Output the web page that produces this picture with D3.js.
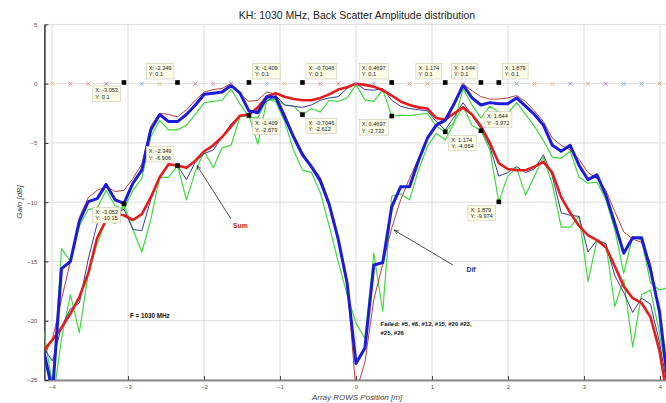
<!DOCTYPE html>
<html>
<head>
<meta charset="utf-8">
<script src="https://cdn.jsdelivr.net/npm/d3@7"></script>
<style>
  body { margin: 0; background: #fff; }
  svg { display: block; font-family: "Liberation Sans", Arial, sans-serif; }
</style>
</head>
<body>
<div id="chart"></div>
<script>
// sample grid: half the element pitch, k = -35 .. 35
var halfPitch = 0.117423;
var samplePos = d3.range(-35, 36).map(function (k) { return k * halfPitch });

// Sum pattern
var sumThick = [-22.5, -21.6, -20.6, -19.4, -18.0, -16.0, -13.0, -11.5, -11.0, -11.1,
  -11.5, -11.0, -9.6, -7.9, -6.8, -6.9, -7.1, -6.5, -5.7, -5.2,
  -4.5, -3.6, -2.7, -2.6, -2.0, -1.1, -0.8, -1.1, -1.3, -1.4,
  -1.4, -1.2, -0.9, -0.5, -0.3, 0.0, -0.1, -0.25, -0.55, -1.0,
  -1.5, -1.8, -2.0, -2.1, -2.9, -3.05, -2.5, -2.0, -2.6, -3.6,
  -5.0, -6.7, -7.2, -7.3, -7.3, -7.0, -6.6, -7.5, -9.6, -10.9,
  -12.0, -12.8, -13.2, -13.8, -15.4, -17.1, -18.1, -18.5, -19.7, -22.5,
  -27.0];
var sumThin = [-22.3, -23.4, -20.5, -19.0, -18.5, -14.8, -11.8, -11.0, -10.9, -10.6,
  -12.3, -12.4, -9.8, -7.9, -6.8, -6.9, -8.1, -6.6, -5.9, -5.6,
  -4.5, -3.4, -2.7, -2.6, -2.2, -1.5, -1.0, -1.8, -1.9, -2.0,
  -1.8, -1.4, -1.2, -1.1, -0.4, 0.0, -0.5, -0.55, -0.4, -1.4,
  -1.9, -2.1, -2.2, -2.3, -3.2, -3.9, -2.8, -1.6, -2.7, -3.8,
  -5.3, -7.8, -7.5, -7.0, -7.5, -7.2, -6.0, -7.8, -10.9, -11.1,
  -11.2, -14.2, -13.2, -13.5, -16.2, -17.6, -19.3, -18.1, -18.6, -21.8,
  -26.0];
var sumGreen = [-22.0, -27.0, -21.5, -17.8, -21.0, -16.0, -13.5, -11.5, -11.8, -10.15,
  -12.3, -14.2, -11.5, -7.9, -7.9, -6.906, -9.8, -7.4, -5.7, -7.1,
  -5.4, -5.2, -2.8, -2.679, -5.1, -1.4, -1.3, -1.8, -1.9, -2.612,
  -2.1, -2.4, -1.4, -1.5, -1.2, -0.1, -1.37, -1.5, -0.5, -2.733,
  -2.65, -2.7, -2.6, -2.5, -3.6, -4.064, -3.2, -1.9, -3.5, -3.972,
  -5.6, -9.974, -7.8, -7.1, -9.4, -7.8, -6.2, -8.5, -12.1, -12.1,
  -11.2, -16.7, -13.2, -13.5, -18.8, -16.5, -22.2, -17.8, -17.4, -21.0,
  -25.5];

// Dif pattern
var difThick = [-22.5, -26.0, -15.6, -15.0, -11.6, -9.95, -9.7, -8.5, -9.8, -10.1,
  -8.4, -7.3, -3.9, -2.6, -3.2, -3.2, -2.6, -1.8, -0.9, -0.8,
  -0.7, -0.15, -0.8, -2.3, -2.45, -1.1, -1.15, -2.8, -4.5, -6.0,
  -7.0, -8.2, -10.2, -13.1, -16.8, -23.6, -22.3, -15.3, -15.1, -10.4,
  -8.7, -8.7, -6.5, -4.6, -3.5, -3.1, -1.7, -0.1, -1.2, -1.8,
  -1.6, -1.7, -1.7, -1.2, -1.9, -2.6, -3.5, -5.2, -5.7, -5.2,
  -6.9, -8.1, -7.7, -9.4, -11.8, -14.3, -13.0, -13.0, -15.7, -19.2,
  -25.5];
var difThin = [-23.0, -21.5, -18.2, -15.0, -11.3, -9.6, -9.0, -8.7, -9.1, -9.0,
  -8.0, -6.8, -3.6, -2.5, -2.6, -2.8, -2.2, -1.4, -0.7, -0.5,
  -0.4, 0.0, -0.9, -1.5, -1.4, -0.7, -0.9, -2.5, -4.3, -5.8,
  -6.9, -7.9, -10.0, -13.0, -16.6, -26.0, -23.5, -18.2, -15.2, -12.2,
  -9.8, -8.0, -6.3, -4.6, -3.4, -2.9, -1.6, -0.05, -0.6, -1.1,
  -1.3, -1.3, -1.2, -1.0, -1.5, -2.3, -3.2, -4.6, -5.2, -5.6,
  -6.4, -7.5, -8.0, -9.0, -10.8, -12.5, -13.1, -13.4, -15.2, -19.5,
  -25.5];
var difGreen = [-20.8, -25.5, -13.9, -15.0, -12.0, -10.6, -10.5, -9.0, -10.3, -10.6,
  -9.0, -8.0, -4.5, -3.1, -3.9, -3.9, -3.5, -2.6, -1.6, -1.5,
  -1.4, -0.45, -1.7, -2.8, -2.9, -1.3, -1.5, -3.2, -5.6, -7.3,
  -7.5, -9.2, -12.0, -15.0, -17.8, -20.2, -21.5, -14.3, -19.2, -9.5,
  -9.3, -9.8, -7.3, -5.3, -4.2, -4.75, -3.3, -0.4, -1.8, -2.9,
  -1.9, -2.4, -2.5, -1.6, -2.6, -3.6, -4.8, -6.2, -6.3, -5.7,
  -7.9, -8.4, -8.3, -9.8, -12.3, -16.0, -12.9, -13.2, -16.8, -17.4,
  -17.2];

// array elements #1..#35 and the failed ones
var elementPitch = 0.23485;
var elementNo = d3.range(1, 36);
var failed = [5, 8, 12, 15, 20, 23, 25, 26];
var elementColor = ["y", "p", "p", "v", "-", "b", "y", "-", "p", "p",
  "v", "-", "b", "y", "-", "p", "p", "v", "b", "-",
  "o", "o", "-", "p", "-", "-", "b", "o", "y", "v",
  "o", "v", "b", "b", "o"];
var markColors = { y: "#e3bd55", p: "#d9809a", v: "#9c72ad", b: "#6fa9d9", o: "#e59a62" };

// data tips
var tipX = [-3.053, -2.349, -1.409, -0.7046, 0.4697, 1.174, 1.644, 1.879];
var tipTopY = 0.1;
var tipTopSide = ["bl", "tl", "tr", "tr", "tl", "tl", "tl", "tr"];
var tipLowY = [-10.15, -6.906, -2.679, -2.612, -2.733, -4.064, -3.972, -9.974];
var tipLowSide = ["bl", "tl", "br", "br", "bl", "br", "tr", "bl"];

var xTicks = d3.range(-4, 5);
var yTicks = [-25, -20, -15, -10, -5, 0, 5];

var width = 666, height = 403;

var x = d3.scaleLinear().domain([-4.1, 4.1]).range([44.4, 667.6]);
var y = d3.scaleLinear().domain([-25, 5]).range([380, 24.4]);

var svg = d3.select("#chart").append("svg")
    .attr("width", width)
    .attr("height", height)

var defs = svg.append("defs")
defs.append("clipPath").attr("id", "plot")
    .append("rect")
    .attr("x", x(-4.1)).attr("y", y(5))
    .attr("width", x(4.1) - x(-4.1)).attr("height", y(-25) - y(5))

defs.append("marker")
    .attr("id", "head")
    .attr("viewBox", "0 0 10 10")
    .attr("refX", 10).attr("refY", 5)
    .attr("markerWidth", 6).attr("markerHeight", 6)
    .attr("orient", "auto")
    .append("path")
    .attr("d", "M0,1L10,5L0,9")
    .attr("fill", "none")
    .attr("stroke", "#222")
    .attr("stroke-width", 1.3)

// grid
svg.append("g").selectAll("line.vg")
    .data(xTicks)
    .enter().append("line")
    .attr("x1", d => x(d)).attr("x2", d => x(d))
    .attr("y1", y(5)).attr("y2", y(-25))
    .attr("stroke", "#dcdcdc").attr("stroke-width", 1)

svg.append("g").selectAll("line.hg")
    .data(yTicks)
    .enter().append("line")
    .attr("x1", x(-4.1)).attr("x2", width)
    .attr("y1", d => y(d)).attr("y2", d => y(d))
    .attr("stroke", "#dcdcdc").attr("stroke-width", 1)

// title
svg.append("text")
    .attr("x", 357).attr("y", 19)
    .attr("text-anchor", "middle")
    .style("font-size", "10.5px")
    .style("fill", "#222")
    .text("KH: 1030 MHz, Back Scatter Amplitude distribution")

// axes
var xAxis = svg.append("g")
    .attr("transform", "translate(0," + y(-25) + ")")
    .call(d3.axisBottom(x).tickValues(xTicks).tickSizeInner(-4).tickSizeOuter(0).tickPadding(5))
xAxis.select(".domain").attr("stroke", "#8a8a8a").attr("stroke-width", 2)
xAxis.selectAll(".tick line").attr("stroke", "#444")

var yAxis = svg.append("g")
    .attr("transform", "translate(" + x(-4.1) + ",0)")
    .call(d3.axisLeft(y).tickValues(yTicks).tickSizeInner(-4).tickSizeOuter(0).tickPadding(7))
yAxis.select(".domain").attr("stroke", "#333").attr("stroke-width", 1.5)
yAxis.selectAll(".tick line").attr("stroke", "#333")

svg.selectAll(".tick text")
    .style("font-size", "6px")
    .style("fill", "#555")
    .style("font-family", "'Liberation Sans', Arial, sans-serif")

svg.append("text")
    .attr("x", 357).attr("y", 400)
    .attr("text-anchor", "middle")
    .style("font-size", "8px").style("font-style", "italic").style("fill", "#444")
    .text("Array ROWS Position [m]")

svg.append("text")
    .attr("transform", "translate(22,202) rotate(-90)")
    .attr("text-anchor", "middle")
    .style("font-size", "8px").style("font-style", "italic").style("fill", "#444")
    .text("Gain [dB]")

// curves
var line = d3.line()
    .x(function (d, i) { return x(samplePos[i]) })
    .y(function (d) { return y(d) })

var curves = [
    { values: sumGreen, color: "#41d941", w: 1.2 },
    { values: difGreen, color: "#41d941", w: 1.2 },
    { values: difThin, color: "#b4413b", w: 1 },
    { values: sumThin, color: "#3a3a92", w: 1 },
    { values: sumThick, color: "#e41c1c", w: 2.6 },
    { values: difThick, color: "#1b1bd8", w: 3 }
]

var plot = svg.append("g").attr("clip-path", "url(#plot)")

plot.selectAll("path.curve")
    .data(curves)
    .enter().append("path")
    .attr("class", "curve")
    .attr("d", d => line(d.values))
    .attr("fill", "none")
    .attr("stroke", d => d.color)
    .attr("stroke-width", d => d.w)
    .attr("stroke-linejoin", "round")

// element markers on the 0 dB line
var working = elementNo.filter(n => failed.indexOf(n) < 0)

plot.selectAll("path.elem")
    .data(working)
    .enter().append("path")
    .attr("class", "elem")
    .attr("transform", n => "translate(" + x((n - 18) * elementPitch) + "," + y(0) + ")")
    .attr("d", "M-2,-2L2,2M-2,2L2,-2")
    .attr("stroke", n => markColors[elementColor[n - 1]])
    .attr("stroke-width", 0.9)

// data tips
var tips = []
tipX.forEach(function (v, i) {
    tips.push({ x: v, y: tipTopY, side: tipTopSide[i] })
    tips.push({ x: v, y: tipLowY[i], side: tipLowSide[i] })
})

svg.selectAll("rect.sq")
    .data(tips)
    .enter().append("rect")
    .attr("class", "sq")
    .attr("x", d => x(d.x) - 2.3).attr("y", d => y(d.y) - 2.3)
    .attr("width", 4.6).attr("height", 4.6)
    .attr("fill", "#000")

var tipG = svg.selectAll("g.tip")
    .data(tips)
    .enter().append("g")
    .attr("class", "tip")

tipG.each(function (d) {
    var g = d3.select(this)
    var box = g.append("rect")
        .attr("fill", "#fbfbe6")
        .attr("stroke", "#c8c8b4")
        .attr("stroke-width", 0.6)
    var t1 = g.append("text").text("X: " + d.x)
    var t2 = g.append("text").text("Y: " + d.y)
    g.selectAll("text").style("font-size", "5.6px").style("fill", "#222")
    var w = Math.max(t1.node().getComputedTextLength(), t2.node().getComputedTextLength()) + 5
    var h = 15.5
    var mx = x(d.x), my = y(d.y)
    var bx = d.side[1] == "l" ? mx - 3.5 - w : mx + 3.5
    var by = d.side[0] == "t" ? my - 3.5 - h : my + 3.5
    box.attr("x", bx).attr("y", by).attr("width", w).attr("height", h)
    t1.attr("x", bx + 2.5).attr("y", by + 6.5)
    t2.attr("x", bx + 2.5).attr("y", by + 13)
})

// annotations
svg.append("line")
    .attr("x1", 231).attr("y1", 219)
    .attr("x2", 197).attr("y2", 165.5)
    .attr("stroke", "#222").attr("stroke-width", 0.8)
    .attr("marker-end", "url(#head)")
svg.append("text")
    .attr("x", 233).attr("y", 227.5)
    .style("font-size", "6.8px").style("font-weight", "bold").style("fill", "#c42a22")
    .text("Sum")

svg.append("line")
    .attr("x1", 453).attr("y1", 265)
    .attr("x2", 394).attr("y2", 230)
    .attr("stroke", "#222").attr("stroke-width", 0.8)
    .attr("marker-end", "url(#head)")
svg.append("text")
    .attr("x", 466.5).attr("y", 272)
    .style("font-size", "6.8px").style("font-weight", "bold").style("fill", "#2b2b8e")
    .text("Dif")

svg.append("text")
    .attr("x", 130).attr("y", 318)
    .style("font-size", "6.3px").style("font-weight", "bold").style("fill", "#111")
    .text("F = 1030 MHz")

svg.append("text")
    .attr("x", 380.5).attr("y", 325.5)
    .style("font-size", "6px").style("font-weight", "bold").style("fill", "#111")
    .text("Failed: #5, #8, #12, #15, #20 #23,")
svg.append("text")
    .attr("x", 380.5).attr("y", 335)
    .style("font-size", "6px").style("font-weight", "bold").style("fill", "#111")
    .text("#25, #26")
</script>
</body>
</html>
